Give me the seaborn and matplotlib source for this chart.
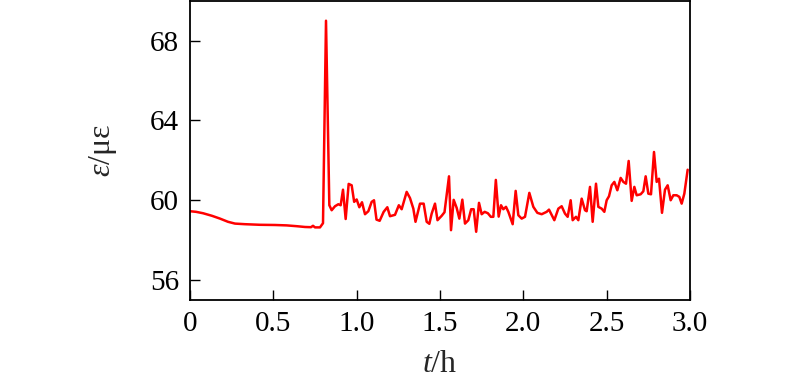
import pandas as pd
import seaborn as sns
import matplotlib
matplotlib.use("Agg")
import matplotlib.pyplot as plt

# time (h) and strain (microstrain)
t_smooth = [0.0, 0.036, 0.078, 0.132, 0.18, 0.228, 0.27, 0.33, 0.42, 0.51,
            0.58, 0.64, 0.69, 0.726, 0.738, 0.75, 0.78, 0.798]
eps_smooth = [59.45, 59.42, 59.35, 59.22, 59.08, 58.92, 58.83, 58.80, 58.77, 58.76,
              58.74, 58.70, 58.66, 58.65, 58.72, 58.64, 58.64, 58.85]

t_spike = [0.816]
eps_spike = [69.0]

t_noisy = [0.836, 0.850, 0.870, 0.890, 0.904, 0.918, 0.934, 0.952, 0.970, 0.985,
           1.000, 1.016, 1.032, 1.050, 1.070, 1.090, 1.104, 1.119, 1.138, 1.162,
           1.184, 1.200, 1.230, 1.253, 1.270, 1.300, 1.320, 1.340, 1.353, 1.380,
           1.402, 1.420, 1.436, 1.450, 1.470, 1.485, 1.510, 1.527, 1.554, 1.566,
           1.582, 1.600, 1.616, 1.634, 1.650, 1.670, 1.687, 1.702, 1.717, 1.734,
           1.750, 1.768, 1.787, 1.805, 1.820, 1.835, 1.852, 1.866, 1.880, 1.896,
           1.910, 1.936, 1.954, 1.970, 1.990, 2.010, 2.036, 2.060, 2.084, 2.110,
           2.140, 2.154, 2.186, 2.210, 2.230, 2.250, 2.266, 2.284, 2.296, 2.316,
           2.330, 2.350, 2.370, 2.380, 2.400, 2.416, 2.436, 2.450, 2.470, 2.486,
           2.500, 2.514, 2.530, 2.546, 2.564, 2.584, 2.600, 2.616, 2.632, 2.650,
           2.666, 2.680, 2.704, 2.720, 2.734, 2.750, 2.766, 2.784, 2.800, 2.814,
           2.832, 2.850, 2.866, 2.884, 2.900, 2.920, 2.936, 2.950, 2.966, 2.986]
eps_noisy = [59.75, 59.50, 59.70, 59.80, 59.75, 60.53, 59.06, 60.82, 60.75, 59.92,
             60.04, 59.65, 59.90, 59.30, 59.45, 59.92, 60.00, 59.03, 58.97, 59.42,
             59.65, 59.20, 59.27, 59.75, 59.55, 60.42, 60.11, 59.58, 58.92, 59.83,
             59.83, 58.92, 58.82, 59.33, 59.83, 59.00, 59.22, 59.40, 61.20, 58.50,
             60.02, 59.62, 59.08, 60.03, 58.83, 59.00, 59.55, 59.55, 58.42, 59.87,
             59.30, 59.42, 59.35, 59.17, 59.17, 61.02, 59.18, 59.75, 59.55, 59.67,
             59.42, 58.80, 60.47, 59.25, 59.08, 59.17, 60.37, 59.67, 59.37, 59.30,
             59.42, 59.53, 59.00, 59.58, 59.70, 59.33, 59.17, 60.00, 59.00, 59.17,
             59.00, 60.08, 59.50, 59.45, 60.67, 58.92, 60.83, 59.67, 59.58, 59.42,
             60.00, 60.20, 60.75, 60.92, 60.50, 61.12, 60.92, 60.83, 61.97, 59.97,
             60.67, 60.25, 60.30, 60.45, 61.20, 60.33, 60.30, 62.42, 60.92, 61.08,
             59.37, 60.53, 60.75, 60.00, 60.25, 60.25, 60.17, 59.83, 60.33, 61.53]

x_ticks = [0, 0.5, 1.0, 1.5, 2.0, 2.5, 3.0]
x_tick_labels = ["0", "0.5", "1.0", "1.5", "2.0", "2.5", "3.0"]
y_ticks = [56, 60, 64, 68]

data = pd.DataFrame({
    "t": t_smooth + t_spike + t_noisy,
    "eps": eps_smooth + eps_spike + eps_noisy,
})

sns.set_theme(style="ticks")
plt.rcParams["font.family"] = ["Liberation Serif", "DejaVu Serif"]
plt.rcParams["mathtext.fontset"] = "custom"
plt.rcParams["mathtext.it"] = "Liberation Serif:italic"
plt.rcParams["mathtext.rm"] = "Liberation Serif"

fig = plt.figure(figsize=(8, 3.86), dpi=100)
ax = fig.add_axes([0.2375, 0.2228, 0.625, 0.7752])

sns.lineplot(data=data, x="t", y="eps", ax=ax, color="#ff0000",
             linewidth=1.8, sort=False, estimator=None)

ax.set_xlim(0, 3.0)
ax.set_ylim(55, 70)
ax.set_xticks(x_ticks)
ax.set_xticklabels(x_tick_labels)
ax.set_yticks(y_ticks)
ax.tick_params(direction="in", length=7, width=1, labelsize=21,
               colors="black", pad=8)
for s in ax.spines.values():
    s.set_linewidth(1.3)
    s.set_color("black")

ax.set_xlabel(r"$t$/h", fontsize=23, labelpad=9)
ax.set_ylabel(r"$ε$/με", fontsize=23, labelpad=22)

fig.savefig("out.png", dpi=100)
